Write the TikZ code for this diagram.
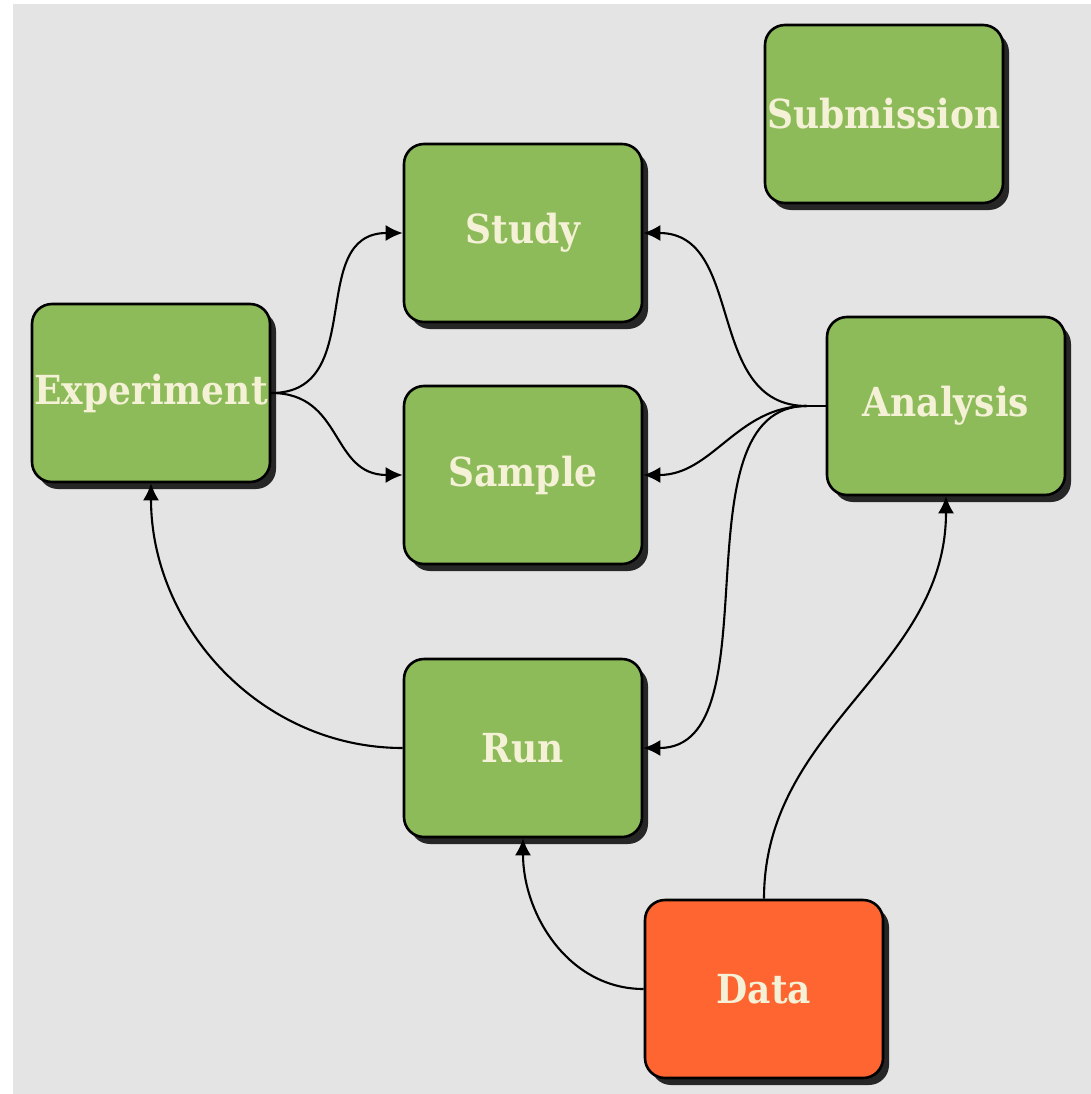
\documentclass[tikz,border=0pt]{standalone}
\usepackage{fontspec}
\setmainfont{DejaVu Serif}
\newfontfamily\boxfont{DejaVu Serif Condensed}[UprightFont=*, BoldFont=* Bold]
\usetikzlibrary{arrows.meta,shadows}
\definecolor{bggray}{HTML}{E4E4E4}
\definecolor{boxgreen}{HTML}{8EBB5A}
\definecolor{boxorange}{HTML}{FF6531}
\definecolor{txtcream}{HTML}{F4F1D6}
\begin{document}
\begin{tikzpicture}[x=1pt,y=1pt,
  entity/.style={draw=black, line width=2.6pt, rounded corners=20pt,
    fill=boxgreen, minimum width=238pt, minimum height=178pt,
    inner sep=0pt, text=txtcream, font=\boxfont\bfseries\fontsize{40}{45}\selectfont,
    drop shadow={shadow xshift=6pt, shadow yshift=-7pt, fill=black!85, opacity=1}},
  datastyle/.style={entity, fill=boxorange},
  link/.style={draw=black, line width=2.1pt, -{Latex[length=17pt,width=16pt]}}]
\fill[white] (0,0) rectangle (1091,-1094);
\fill[bggray] (13,-4) rectangle (1091,-1094);
\useasboundingbox (0,0) rectangle (1091,-1094);

\node[entity] (sub) at (884,-114) {Submission};
\node[entity] (study) at (523,-233) {Study};
\node[entity] (exp) at (151,-393) {Experiment};
\node[entity] (sample) at (523,-475) {Sample};
\node[entity] (ana) at (946,-406) {Analysis};
\node[entity] (run) at (523,-748) {Run};
\node[datastyle] (data) at (764,-989) {Data};

\coordinate (anaj) at ([xshift=-19pt]ana.west);

\draw[link] (exp.east) to[out=0,in=180,looseness=1.2] (study.west);
\draw[link] (exp.east) to[out=0,in=180,looseness=1.2] (sample.west);
\draw[line width=2.1pt] (ana.west) -- (anaj);
\draw[link] (anaj) to[out=180,in=0,looseness=1.1] (study.east);
\draw[link] (anaj) to[out=180,in=0] (sample.east);
\draw[link] (anaj) to[out=180,in=0,looseness=0.9] (run.east);
\draw[link] (run.west) to[out=180,in=-90] (exp.south);
\draw[link] (data.west) to[out=180,in=-90] (run.south);
\draw[link] (data.north) to[out=90,in=-90] (ana.south);
\end{tikzpicture}
\end{document}
